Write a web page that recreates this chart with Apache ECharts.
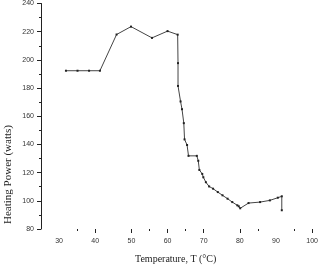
<!DOCTYPE html>
<html>
<head>
<meta charset="utf-8">
<script src="https://cdn.jsdelivr.net/npm/echarts@6/dist/echarts.min.js"></script>
<style>html,body{margin:0;padding:0;background:#fff}#c{width:321px;height:266px}</style>
</head>
<body>
<div id="c"></div>
<script>
var temperature = [31.9,35.1,38.3,41.3,45.9,49.9,55.7,60.0,62.8,62.9,62.9,63.6,64.0,64.5,64.7,65.4,65.8,68.1,68.5,68.8,69.6,69.9,70.6,71.5,72.6,73.9,75.2,76.6,77.9,79.3,79.7,80.1,82.4,85.6,88.3,90.5,91.6,91.6];
var power = [192.3,192.3,192.3,192.3,218.0,223.6,215.6,220.4,217.9,197.7,181.5,170.5,165.0,155.1,143.6,139.6,131.9,131.9,128.4,121.9,119.1,116.7,113.2,110.2,108.6,106.2,103.9,101.5,99.1,96.8,96.1,94.7,98.4,99.1,100.3,102.2,103.2,93.3];
var xLabels = [30,40,50,60,70,80,90,100];
var xMajorTicks = [40,50,60,70,80,100];
var xMinorTicks = [35,55,65,85,95];
var yTicks = [80,100,120,140,160,180,200,220,240];

var chart = echarts.init(document.getElementById('c'), null, {renderer:'canvas'});
var pts = temperature.map(function(t,i){return [t, power[i]];});
var lblStyle = {fontFamily:'Liberation Sans', fontSize:7, color:'#333'};
chart.setOption({
  animation:false,
  grid:{left:41, right:1, top:1, bottom:37},
  xAxis:[{
    type:'value', min:25, max:100,
    axisLine:{show:false},
    splitLine:{show:false},
    axisTick:{show:true, length:4, inside:false, customValues:xMajorTicks, lineStyle:{color:'#222'}},
    axisLabel:Object.assign({margin:9, customValues:xLabels, showMaxLabel:true}, lblStyle)
  },{
    type:'value', min:25, max:100, position:'bottom',
    axisLine:{show:false}, splitLine:{show:false},
    axisTick:{show:true, length:2, customValues:xMinorTicks, lineStyle:{color:'#222'}},
    axisLabel:{show:false}
  }],
  yAxis:{
    type:'value', min:80, max:240, interval:20,
    axisLine:{show:true, lineStyle:{color:'#222', width:1}},
    splitLine:{show:false},
    axisTick:{show:true, length:4, lineStyle:{color:'#222'}},
    minorTick:{show:true, splitNumber:2, length:2, lineStyle:{color:'#222'}},
    axisLabel:Object.assign({margin:7}, lblStyle)
  },
  graphic:[
    {type:'text', left:135, top:254, style:{text:'Temperature, T (°C)', font:'10px "Liberation Serif"', fill:'#222'}},
    {type:'text', x:3, y:224, rotation:Math.PI/2, style:{text:'Heating Power (watts)', font:'11px "Liberation Serif"', fill:'#222', align:'left', verticalAlign:'top'}}
  ],
  series:[{
    type:'line', data:pts, xAxisIndex:0,
    symbol:'rect', symbolSize:2, showSymbol:true,
    itemStyle:{color:'#222'},
    lineStyle:{color:'#444', width:1}
  }]
});
</script>
</body>
</html>
